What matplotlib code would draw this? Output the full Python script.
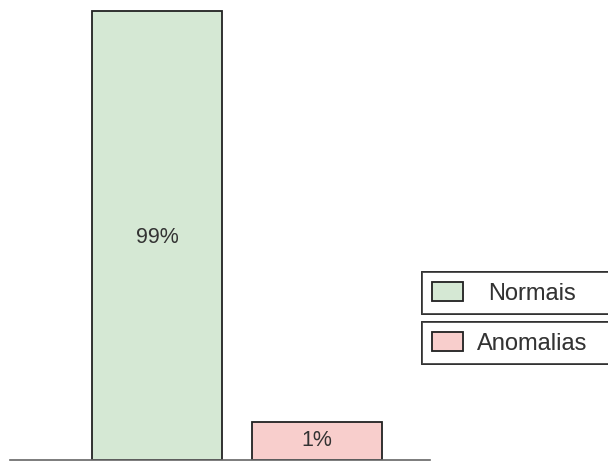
import matplotlib.pyplot as plt
from matplotlib.patches import Patch

plt.rcParams['font.family'] = ['Liberation Sans', 'DejaVu Sans']

categories = ["Normais", "Anomalias"]
heights = [99, 8.4]          # drawn bar heights (the 1% bar is not to scale)
labels = ["99%", "1%"]
colors = ["#d5e8d4", "#f8cecc"]

fig = plt.figure(figsize=(6.08, 4.61), dpi=100)
ax = fig.add_axes([10 / 608, 1 / 461, 420 / 608, 460 / 461])

x = list(range(len(categories)))
bars = ax.bar(x, heights, width=0.81, color=colors, edgecolor="#222222", linewidth=1.3)

label_y = [49, heights[1] / 2]
for i, b in enumerate(bars):
    ax.text(b.get_x() + b.get_width() / 2, label_y[i], labels[i],
            ha="center", va="center", fontsize=15.5, color="#333333")

ax.set_xlim(-0.919, 1.706)
ax.set_ylim(0, 99 * 460 / 449)
for s in ["top", "left", "right"]:
    ax.spines[s].set_visible(False)
ax.spines["bottom"].set_color("#666666")
ax.spines["bottom"].set_linewidth(1.2)
ax.set_xticks([])
ax.set_yticks([])

# two separate legend boxes, running off the right edge
pads = [1.06, 0.6]
tops = [272, 322]
for i, name in enumerate(categories):
    h = Patch(facecolor=colors[i], edgecolor="#222222", linewidth=1.3)
    leg = fig.legend([h], [name], loc="upper left",
                     bbox_to_anchor=(422 / 608, 1 - tops[i] / 461, 260 / 608, 0),
                     mode="expand", fontsize=17, frameon=True, fancybox=False,
                     handlelength=1.31, handleheight=0.85, handletextpad=pads[i],
                     borderpad=0.42, borderaxespad=0, labelcolor="#333333")
    leg.get_frame().set_edgecolor("#222222")
    leg.get_frame().set_linewidth(1.3)
    fig.add_artist(leg)

fig.savefig("out.png", dpi=100)
